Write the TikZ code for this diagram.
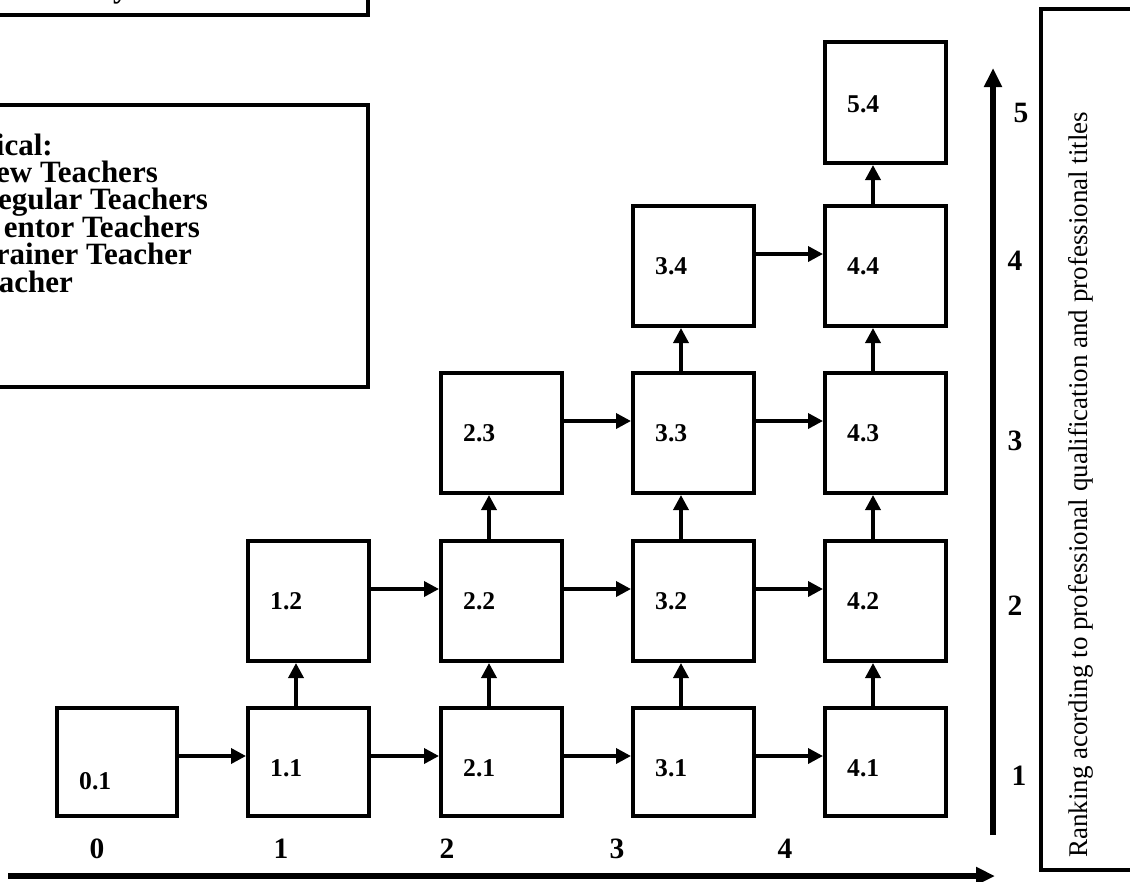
\documentclass[tikz,border=0pt]{standalone}
\usepackage{fontspec}
\setmainfont{Liberation Serif}
\usetikzlibrary{arrows.meta}
\begin{document}
\begin{tikzpicture}[x=1pt,y=-1pt,
    stage/.style={rectangle,draw=black,line width=4pt,minimum width=121pt,minimum height=120pt,inner sep=0pt},
    conn/.style={line width=3.5pt,-{Triangle[length=15pt,width=15pt]}},
    axis/.style={line width=6pt,-{Triangle[length=19pt,width=17pt]}},
    lbl/.style={inner sep=0pt,anchor=base west,font=\fontsize{25.6}{30}\selectfont\bfseries},
    num/.style={inner sep=0pt,anchor=base,font=\fontsize{29.5}{34}\selectfont\bfseries},
    leg/.style={inner sep=0pt,anchor=base east,font=\fontsize{31}{34}\selectfont\bfseries},
    frame/.style={draw=black,line width=4pt}
]
    \useasboundingbox (0,0) rectangle (1130,881);
    \clip (0,0) rectangle (1130,881);
    % frames on the left and right
    \draw[frame] (-10,-10) rectangle (368,15);
    \node[inner sep=0pt,anchor=base west,font=\fontsize{31}{34}\selectfont\bfseries] (ttl) at (113,-3) {y};
    \draw[frame] (-10,105) rectangle (368,387);
    \foreach \i/\r/\txt in {1/53/ical:, 2/158/ew Teachers, 3/208/egular Teachers,
                            4/200/entor Teachers, 5/192/rainer Teacher, 6/73/eacher}
        \node[leg] (leg\i) at (\r,{155+27.4*(\i-1)}) {\txt};
    \draw[frame] (1041,9) rectangle (1140,870);
    \node[rotate=90,anchor=base west,inner sep=0pt,font=\fontsize{27}{32}\selectfont] (rank) at (1087,858)
        {Ranking acording to professional qualification and professional titles};
    % bottom row
    \node[stage,minimum width=120pt,minimum height=108pt] (b01) at (117,762) {};
    \node[lbl] (t01) at ([shift={(24,83)}]b01.north west) {0.1};
    \foreach \name/\txt/\x in {11/1.1/308.5, 21/2.1/501.5, 31/3.1/693.5, 41/4.1/885.5}
    {
        \node[stage,minimum height=108pt] (b\name) at (\x,762) {};
        \node[lbl] (t\name) at ([shift={(24,70)}]b\name.north west) {\txt};
    }
    % upper rows
    \foreach \name/\txt/\x/\y in {12/1.2/308.5/601, 22/2.2/501.5/601, 32/3.2/693.5/601, 42/4.2/885.5/601,
                                  23/2.3/501.5/433, 33/3.3/693.5/433, 43/4.3/885.5/433,
                                  34/3.4/693.5/266, 44/4.4/885.5/266}
    {
        \node[stage] (b\name) at (\x,\y) {};
        \node[lbl] (t\name) at ([shift={(24,70)}]b\name.north west) {\txt};
    }
    \node[stage,minimum height=121pt] (b54) at (885.5,102.5) {};
    \node[lbl] (t54) at ([shift={(24,72)}]b54.north west) {5.4};
    % connectors
    \foreach \a/\b in {01/11,11/21,21/31,31/41,12/22,22/32,32/42,23/33,33/43,34/44}
        \draw[conn] ([yshift=-50pt]b\a.north east) -- ([yshift=-50pt]b\b.north west);
    \foreach \a/\b in {11/12,21/22,31/32,41/42,22/23,32/33,42/43,33/34,43/44,44/54}
        \draw[conn] ([xshift=50pt]b\a.north west) -- ([xshift=50pt]b\b.south west);
    % axes
    \coordinate (xs) at (8,876);
    \coordinate (xe) at (995,876);
    \draw[axis] (xs) -- (xe);
    \coordinate (ys) at (993,835);
    \coordinate (ye) at (993,68);
    \draw[axis] (ys) -- (ye);
    \foreach \v/\x in {0/97,1/281,2/447,3/617,4/785}
        \node[num] (nx\v) at (\x,858) {\v};
    \foreach \v/\x/\y in {1/1019/785,2/1015/615,3/1015/450,4/1015/270,5/1021/122}
        \node[num] (ny\v) at (\x,\y) {\v};
\end{tikzpicture}
\end{document}
